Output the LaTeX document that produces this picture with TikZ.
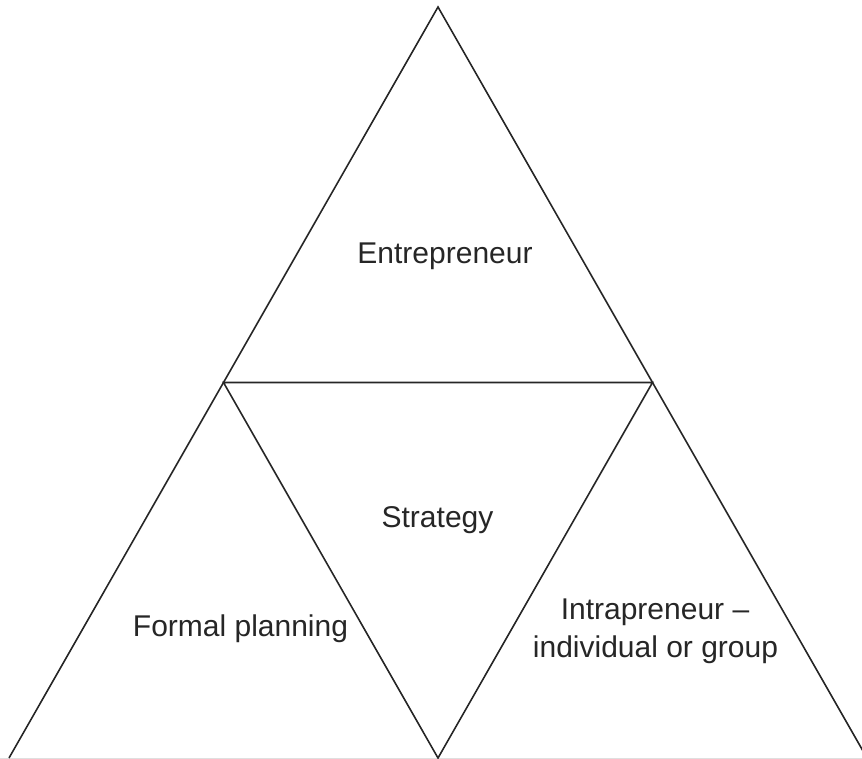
\documentclass[tikz,border=0pt]{standalone}
\usepackage{fontspec}
\setmainfont{Liberation Sans}
\begin{document}
\begin{tikzpicture}[x=1pt,y=-1pt,
  edge/.style={draw=black!85,line width=1.6pt,line join=miter},
  lbl/.style={anchor=base,font=\fontsize{30}{38}\selectfont,text=black!85,inner sep=0pt,align=center}]
\useasboundingbox (0,0) rectangle (862,759);
\begin{scope}
\clip (0,0) rectangle (862,759);
\coordinate (A) at (438,7);
\coordinate (BL) at (9,758);
\coordinate (BR) at (867,758);
\coordinate (ML) at (223.5,382.5);
\coordinate (MR) at (652.5,382.5);
\coordinate (MB) at (438,758);
\draw[gray!25,line width=1pt] (0,758) -- (862,758);
\draw[edge] (BL) -- (A) -- (BR);
\draw[edge] (ML) -- (MR) -- (MB) -- cycle;
\end{scope}
\node[lbl] (ent) at (445,264) {Entrepreneur};
\node[lbl] (str) at (437.5,527) {Strategy};
\node[lbl] (fp) at (240.5,636) {Formal planning};
\node[lbl,anchor=base] (in1) at (655,619) {Intrapreneur –};
\node[lbl,anchor=base] (in2) at (655.5,657) {individual or group};
\end{tikzpicture}
\end{document}
